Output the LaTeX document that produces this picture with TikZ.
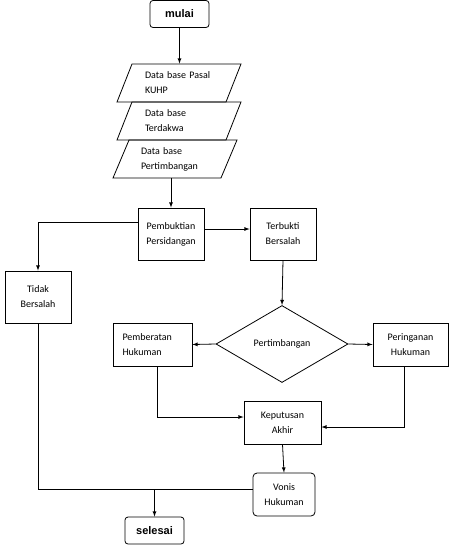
\documentclass[tikz,border=0pt]{standalone}
\usepackage{fontspec}
\setmainfont{Carlito}
\newfontfamily\headfont{Liberation Sans}
\usetikzlibrary{shapes.geometric}

\begin{document}
\begin{tikzpicture}[x=1pt, y=-1pt, >=latex, line width=0.8pt,
   every node/.style={font=\fontsize{10}{15}\selectfont, inner sep=1pt},
   endbox/.style={draw, rounded corners=3pt, font=\headfont\bfseries\fontsize{11}{13}\selectfont},
   databox/.style={draw, trapezium, trapezium left angle=58, trapezium right angle=122,
      trapezium stretches body=true, minimum width=124, minimum height=38,
      text width=68, align=left},
   procbox/.style={draw, align=center},
   decision/.style={draw, diamond, aspect=1.7, minimum width=132, minimum height=77}]

   \useasboundingbox (0,0) rectangle (450,550);

   \node[endbox, minimum width=59, minimum height=27] (mulai) at (179.5,14) {mulai};

   \node[databox] (pasal) at (179,83) {Data base Pasal\\KUHP};
   \node[databox] (dakwa) at (179,121) {Data base\\Terdakwa};
   \node[databox] (timbang) at (175,159) {Data base\\Pertimbangan};

   \node[procbox, minimum width=66, minimum height=52] (bukti) at (171,234) {Pembuktian\\Persidangan};
   \node[procbox, minimum width=66, minimum height=52] (terbukti) at (283,234) {Terbukti\\Bersalah};
   \node[procbox, minimum width=66, minimum height=52] (tidak) at (38,297) {Tidak\\Bersalah};

   \node[decision] (pert) at (282,344) {Pertimbangan};
   \node[procbox, minimum width=79, minimum height=43, text width=60, align=left] (berat) at (152.5,344.5) {Pemberatan\\Hukuman};
   \node[procbox, minimum width=75, minimum height=43] (ringan) at (410.5,344.5) {Peringanan\\Hukuman};

   \node[procbox, minimum width=77, minimum height=43] (akhir) at (282.5,422.5) {Keputusan\\Akhir};
   \node[procbox, rounded corners=4pt, minimum width=62, minimum height=43] (vonis) at (284,494.5) {Vonis\\Hukuman};

   \node[endbox, minimum width=59, minimum height=27] (selesai) at (154.5,530.5) {selesai};

   \coordinate (gabung) at (154.5,489);

   \draw[->] (mulai.south) -- (pasal.north -| mulai.south);
   \draw[->] (bukti.north |- timbang.south) -- (bukti.north);
   \draw[->] ([yshift=12pt]bukti.west) -| (tidak.north);
   \draw[->] ([yshift=5pt]bukti.east) -- ([yshift=5pt]terbukti.west);
   \draw[->] (terbukti.south) -- (pert.north);
   \draw[->] (pert.west) -- (berat.east);
   \draw[->] (pert.east) -- (ringan.west);
   \draw[->] ([xshift=4.5pt]berat.south) |- ([yshift=5.5pt]akhir.west);
   \draw[->] ([xshift=-6.5pt]ringan.south) |- ([yshift=-4.5pt]akhir.east);
   \draw[->] (akhir.south) -- (vonis.north);
   \draw (tidak.south) |- (gabung);
   \draw ([yshift=5.5pt]vonis.west) -- (gabung);
   \draw[->] (gabung) -- (selesai.north);

\end{tikzpicture}
\end{document}
